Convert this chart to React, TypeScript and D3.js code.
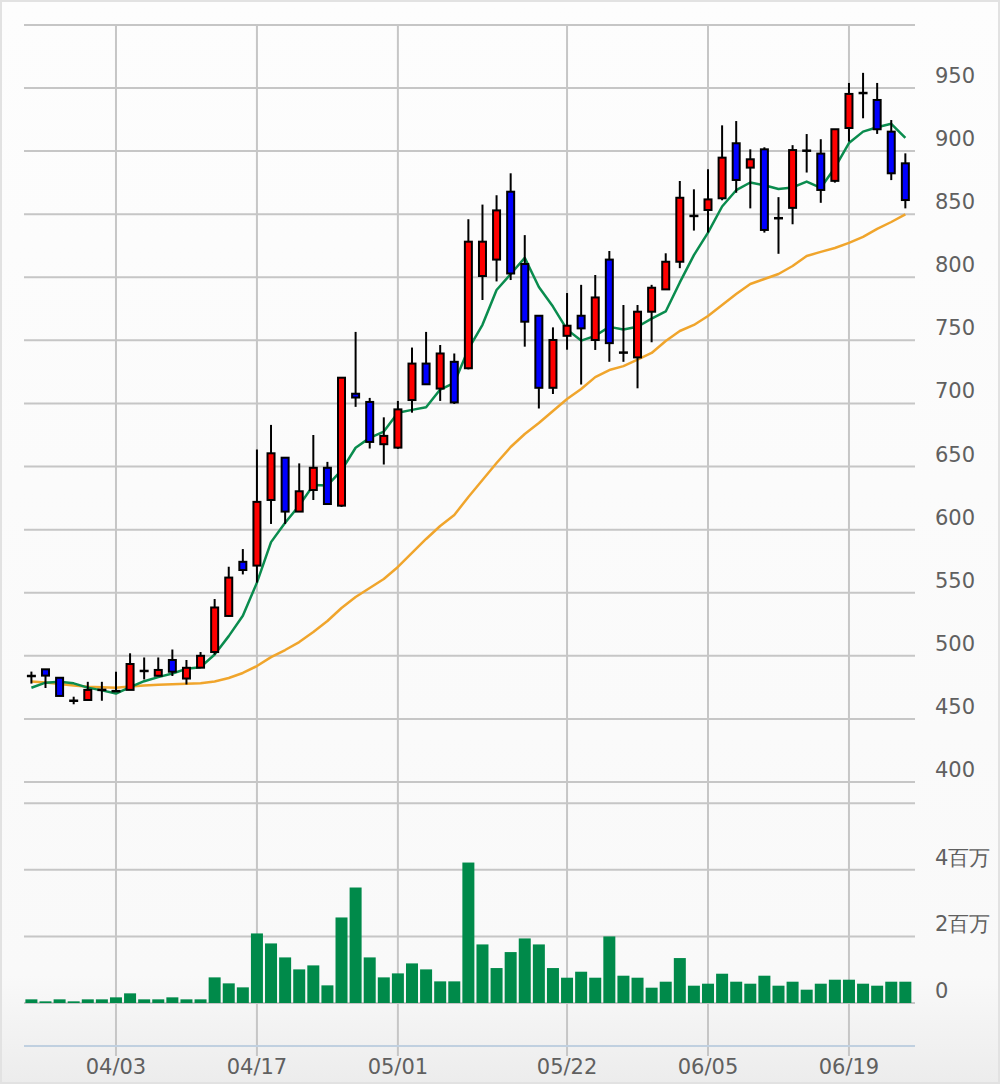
import React from "react";
import * as d3 from "d3";

const dates = [
  "03/24","03/27","03/28","03/29","03/30","03/31",
  "04/03","04/04","04/05","04/06","04/07","04/10","04/11","04/12","04/13","04/14",
  "04/17","04/18","04/19","04/20","04/21","04/24","04/25","04/26","04/27","04/28",
  "05/01","05/02","05/08","05/09","05/10","05/11","05/12","05/15","05/16","05/17","05/18","05/19",
  "05/22","05/23","05/24","05/25","05/26","05/29","05/30","05/31","06/01","06/02",
  "06/05","06/06","06/07","06/08","06/09","06/12","06/13","06/14","06/15","06/16",
  "06/19","06/20","06/21","06/22","06/23",
];

const opens = [
  484, 489.3, 482.6, 464.4, 465, 473, 472, 473, 488, 484.2, 496.7, 482, 490.6, 503, 531.6, 574.5,
  571.5, 623.5, 657, 614.3, 631.4, 649, 619, 707.7, 701.2, 667.7, 665, 702.7, 731.6, 711.8, 733,
  727.9, 801, 814, 867.8, 810.5, 769.5, 712.4, 753.6, 769.5, 750.3, 814, 740.3, 736.5, 772.7, 790.4,
  812.3, 848.6, 853.3, 862.6, 906.2, 886.9, 901.4, 846.8, 855, 900.3, 898, 876.4, 918.3, 946, 940.5,
  915.4, 890.3,
];
const highs = [
  487.5, 489.5, 483, 467.6, 479.4, 479.4, 487.4, 502, 498.7, 498.7, 505, 496.7, 503, 545, 570.6, 584.6,
  663.5, 683, 657, 652.5, 675, 653.7, 720.4, 756.7, 704.4, 689, 702, 744.3, 756.7, 746.3, 739.6,
  846, 857.6, 865, 882.4, 833.4, 769.5, 760.3, 787.5, 794, 801.8, 820.8, 778, 778, 794, 819,
  876.3, 869.7, 885.6, 920.4, 923.8, 901.4, 903, 863.5, 904.7, 913.5, 909.4, 917.5, 954, 962, 954,
  924.6, 898.2,
];
const lows = [
  478, 474.5, 468, 461.6, 465, 464.4, 471.5, 473, 481.3, 484, 484, 477.3, 490.5, 501, 531, 564.5,
  558, 604.5, 604.5, 614, 623.5, 620, 618, 697.3, 664.3, 651.6, 664, 692.7, 715, 702, 699.6,
  727, 782, 796.7, 797.8, 745, 696, 707.5, 742.6, 715, 742.4, 733, 733, 712, 748.5, 790,
  807.2, 837, 835.4, 861, 867, 854.6, 835.4, 818.6, 842, 883, 859, 875, 907.5, 926, 913.6,
  877, 854.6,
];
const closes = [
  484, 484.3, 468.2, 464.4, 473, 473, 472, 493.5, 488, 488.8, 487.4, 490.5, 500, 538.3, 562, 568,
  622, 660.5, 614.3, 630.4, 649, 620.3, 720.4, 704.7, 669.5, 674.3, 695.3, 731.6, 715.2, 739.6, 700.8,
  828.2, 828.2, 853, 803, 764.8, 712.4, 750.3, 761.6, 759.5, 784, 747.8, 740.3, 772.7, 791.7, 812.3,
  863, 848.6, 861.7, 894.8, 877.1, 893.5, 837.5, 846.8, 900.8, 900.3, 869.2, 917.3, 945.3, 946, 917.3,
  882.4, 861.2,
];

const ma5 = [
  474.7, 478.7, 479.5, 478.2, 474.8, 472.6, 470.1, 475.2, 479.9, 483.1, 486, 489.7, 491, 501, 515.6, 531.7,
  558, 590.1, 605.4, 619.1, 635.3, 635, 646.9, 664.9, 672.7, 677.7, 692.6, 694.9, 697, 711, 716.4,
  743, 762.3, 789.9, 802.6, 815.4, 792.3, 776.8, 758.5, 749.8, 753.6, 760.7, 758.6, 760.8, 767.2, 772.9,
  795.9, 817.6, 835.4, 856.1, 869, 875.1, 872.9, 870, 871.2, 875.8, 870.9, 886.8, 906.4, 915.4, 918.9,
  921.6, 910.4,
];
const ma25 = [
  479.6, 478.9, 477.7, 476.5, 475.5, 475, 474.7, 475.7, 476.5, 477, 477.5, 477.8, 478.3, 479.6, 482.4, 486.4,
  491.9, 499, 504.6, 510.9, 518.9, 527.6, 537.9, 546.6, 553.7, 560.9, 570.4, 581.5, 592.6, 602.9, 611.6,
  625.9, 639.3, 652.8, 665.5, 675.8, 684.5, 694, 703.5, 711.4, 720.9, 726.5, 729.6, 734.8, 740, 749.5,
  757.4, 762.2, 769.3, 778, 786.7, 794.7, 798.6, 802.6, 808.9, 816.9, 820.1, 823.2, 827.2, 832, 838.3,
  843.8, 849.8,
];

// volume in millions of shares
const volumes = [
  0.11, 0.05, 0.11, 0.05, 0.11, 0.11, 0.17, 0.29, 0.11, 0.11, 0.17, 0.11, 0.11,
  0.77, 0.59, 0.47, 2.09, 1.79, 1.37, 1.01, 1.13, 0.53, 2.57, 3.47, 1.37, 0.77, 0.89, 1.19, 1.01, 0.65, 0.65, 4.22,
  1.76, 1.05, 1.53, 1.94, 1.76, 1.05, 0.76, 0.94, 0.76, 2.0, 0.82, 0.76, 0.46, 0.64, 1.35, 0.52, 0.58, 0.88,
  0.64, 0.58, 0.82, 0.52, 0.64, 0.4, 0.58, 0.7, 0.7, 0.58, 0.52, 0.64, 0.64,
];

const xTickLabels = ["04/03", "04/17", "05/01", "05/22", "06/05", "06/19"];
const priceGrid = [400, 450, 500, 550, 600, 650, 700, 750, 800, 850, 900, 950, 1000];
const priceLabels = [400, 450, 500, 550, 600, 650, 700, 750, 800, 850, 900, 950];
const volumeGrid = [0, 2, 4, 6];
const volumeLabels = [
  { v: 0, t: "0" },
  { v: 2, t: "2百万" },
  { v: 4, t: "4百万" },
];

const FONT = "'DejaVu Sans', Verdana, sans-serif";

export default function App() {
  const W = 1000;
  const H = 1084;
  const left = 24;
  const right = 915;

  const x = d3.scaleBand<string>().domain(dates).range([24.35, 912.4]).padding(0);
  const cx = (d: string) => (x(d) as number) + x.bandwidth() / 2;
  const y = d3.scaleLinear().domain([400, 1000]).range([782, 24.9]);
  const yv = d3.scaleLinear().domain([0, 6]).range([1003, 803.3]);

  const line = d3
    .line<number>()
    .x((_, i) => cx(dates[i]))
    .y((v) => y(v));

  const bodyW = 7;
  const volW = 12;
  const gridColor = "#c6c6c6";

  return (
    <div style={{ position: "absolute", left: 0, top: 0 }}>
      <svg width={W} height={H} style={{ display: "block" }}>
        <defs>
          <linearGradient id="bg" x1="0" y1="0" x2="0" y2="1">
            <stop offset="0" stopColor="#fdfdfd" />
            <stop offset="0.9" stopColor="#f9f9f9" />
            <stop offset="1" stopColor="#ececec" />
          </linearGradient>
        </defs>
        <rect x={0} y={0} width={W} height={H} fill="url(#bg)" />
        <rect x={1} y={1} width={W - 2} height={H - 2} fill="none" stroke="#e2e2e2" strokeWidth={2} />

        {/* horizontal grid */}
        {priceGrid.map((v) => (
          <line key={"pg" + v} x1={left} x2={right} y1={y(v)} y2={y(v)} stroke={gridColor} strokeWidth={2} />
        ))}
        {volumeGrid.map((v) => (
          <line key={"vg" + v} x1={left} x2={right} y1={yv(v)} y2={yv(v)} stroke={gridColor} strokeWidth={2} />
        ))}
        {/* vertical grid */}
        {xTickLabels.map((d) => (
          <line key={"vx" + d} x1={cx(d)} x2={cx(d)} y1={24} y2={1056} stroke={gridColor} strokeWidth={2} />
        ))}
        {/* x axis line */}
        <line x1={left} x2={right} y1={1046} y2={1046} stroke="#c0d0e0" strokeWidth={2} />

        {/* volume */}
        {volumes.map((v, i) => (
          <rect
            key={"vol" + i}
            x={cx(dates[i]) - volW / 2}
            y={yv(v)}
            width={volW}
            height={yv(0) - yv(v)}
            fill="#008a4a"
          />
        ))}

        {/* moving averages */}
        <path d={line(ma25) || ""} fill="none" stroke="#f0a52c" strokeWidth={2.5} strokeLinejoin="round" />
        <path d={line(ma5) || ""} fill="none" stroke="#0a8c4e" strokeWidth={2.5} strokeLinejoin="round" />

        {/* candles */}
        {dates.map((d, i) => {
          const o = opens[i];
          const c = closes[i];
          const up = c > o;
          const top = y(Math.max(o, c));
          const bot = y(Math.min(o, c));
          const xc = cx(d);
          const h = bot - top;
          return (
            <g key={"c" + i}>
              <line x1={xc} x2={xc} y1={y(highs[i])} y2={y(lows[i])} stroke="#000" strokeWidth={2} />
              {h < 1 ? (
                <line
                  x1={xc - bodyW / 2 - 1}
                  x2={xc + bodyW / 2 + 1}
                  y1={top}
                  y2={top}
                  stroke="#000"
                  strokeWidth={2.5}
                />
              ) : (
                <rect
                  x={xc - bodyW / 2}
                  y={top}
                  width={bodyW}
                  height={h}
                  fill={up ? "#ff0000" : "#0000ff"}
                  stroke="#000"
                  strokeWidth={2}
                />
              )}
            </g>
          );
        })}

        {/* y labels */}
        {priceLabels.map((v) => (
          <text key={"pl" + v} x={935} y={y(v) - 5} fontFamily={FONT} fontSize={21} fill="#606060">
            {v}
          </text>
        ))}
        {volumeLabels.map((l) => (
          <text key={"vl" + l.v} x={935} y={yv(l.v) - 5} fontFamily={FONT} fontSize={21} fill="#606060">
            {l.t}
          </text>
        ))}
        {/* x labels */}
        {xTickLabels.map((d) => (
          <text
            key={"xl" + d}
            x={cx(d)}
            y={1074}
            textAnchor="middle"
            fontFamily={FONT}
            fontSize={21}
            fill="#606060"
          >
            {d}
          </text>
        ))}
      </svg>
    </div>
  );
}
